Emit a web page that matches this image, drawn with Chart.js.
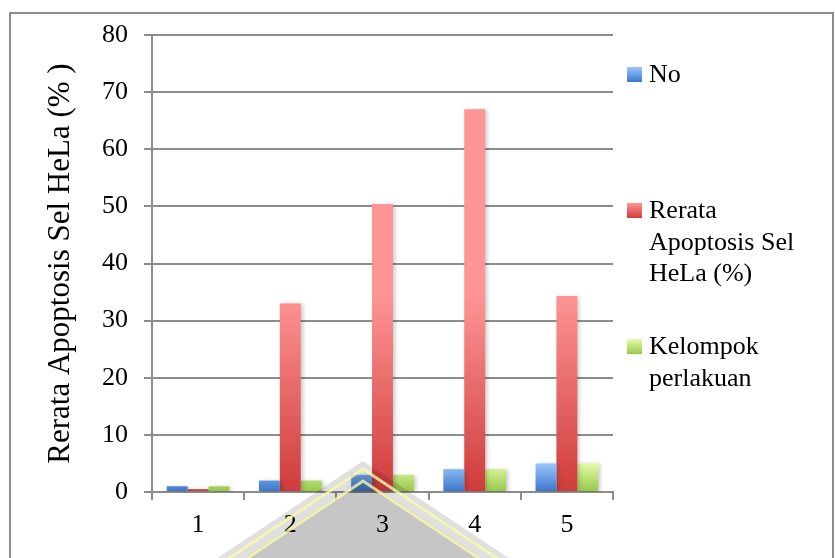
<!DOCTYPE html>
<html>
<head>
<meta charset="utf-8">
<script src="https://cdn.jsdelivr.net/npm/chart.js@4"></script>
<style>
  html, body { margin: 0; padding: 0; background: #fff; }
  #wrap { position: relative; width: 835px; height: 558px; }
</style>
</head>
<body>
<div id="wrap"><canvas id="chart"></canvas></div>
<script>
// data
const categories = ["1", "2", "3", "4", "5"];
const noValues = [1, 2, 3, 4, 5];
const apoptosisValues = [0.5, 33, 50.4, 67, 34.3];
const kelompokValues = [1, 2, 3, 4, 5];
const seriesNames = ["No", "Rerata Apoptosis Sel HeLa (%)", "Kelompok perlakuan"];
const yTicks = [0, 10, 20, 30, 40, 50, 60, 70, 80];
const yTitle = "Rerata Apoptosis Sel HeLa (% )";

// gradient stops per series: light top, dark bottom
const gradTop = ["#9cc6fb", "#fe9494", "#e4fba8"];
const gradBottom = ["#3d78cc", "#cf3c3b", "#98c94a"];

const FONT = "'Liberation Serif', 'Times New Roman', serif";
const GRAY = "#8c8c8c";

// per-bar vertical gradient + soft shadow
const barStyle = {
  id: "barStyle",
  beforeDatasetDraw(chart, args) {
    const c = chart.ctx;
    const i = args.index;
    args.meta.data.forEach((bar) => {
      const g = c.createLinearGradient(0, bar.y, 0, bar.base);
      g.addColorStop(0, gradTop[i]);
      g.addColorStop(1, gradBottom[i]);
      bar.options.backgroundColor = g;
    });
    c.save();
    c.shadowColor = "rgba(0,0,0,0.22)";
    c.shadowBlur = 4;
    c.shadowOffsetX = 2;
    c.shadowOffsetY = 1;
  },
  afterDatasetDraw(chart) {
    chart.ctx.restore();
  },
};

// frame, legend and the faint watermark
const decor = {
  id: "decor",
  beforeDraw(chart) {
    const c = chart.ctx;
    c.save();
    c.fillStyle = "#fff";
    c.fillRect(0, 0, chart.width, chart.height);
    c.strokeStyle = GRAY;
    c.lineWidth = 2;
    c.strokeRect(10, 13, 823, 600);
    c.restore();
  },
  afterDraw(chart) {
    const c = chart.ctx;
    // legend
    c.save();
    c.font = "26px " + FONT;
    c.fillStyle = "#000";
    c.textBaseline = "alphabetic";
    const startY = [82, 218, 354];
    chart.data.datasets.forEach((ds, i) => {
      const lines = wrap(c, ds.label, 165);
      const y0 = startY[i];
      const g = c.createLinearGradient(0, y0 - 15, 0, y0);
      g.addColorStop(0, gradTop[i]);
      g.addColorStop(1, gradBottom[i]);
      c.fillStyle = g;
      c.fillRect(627, y0 - 15, 15, 15);
      c.fillStyle = "#000";
      lines.forEach((ln, k) => c.fillText(ln, 649, y0 + k * 31.5));
    });
    c.restore();

    // watermark triangle
    c.save();
    const ax = 363, ay = 461, s = 1.5, by = 640;
    const tri = (dy) => {
      c.beginPath();
      c.moveTo(ax - (by - ay - dy) * s, by);
      c.lineTo(ax, ay + dy);
      c.lineTo(ax + (by - ay - dy) * s, by);
    };
    c.globalCompositeOperation = "multiply";
    tri(0);
    c.closePath();
    c.fillStyle = "rgb(224,224,224)";
    c.fill();
    tri(18);
    c.closePath();
    c.fillStyle = "rgb(226,226,226)";
    c.fill();
    c.globalCompositeOperation = "source-over";
    c.lineWidth = 3;
    c.strokeStyle = "rgba(250,250,170,0.8)";
    tri(8);
    c.stroke();
    tri(20);
    c.stroke();
    c.restore();
  },
};

function wrap(c, text, maxW) {
  const words = text.split(" ");
  const out = [];
  let cur = "";
  words.forEach((w) => {
    const t = cur ? cur + " " + w : w;
    if (c.measureText(t).width > maxW && cur) {
      out.push(cur);
      cur = w;
    } else cur = t;
  });
  if (cur) out.push(cur);
  return out;
}

const ctx = document.getElementById("chart").getContext("2d");
new Chart(ctx, {
  type: "bar",
  data: {
    labels: categories,
    datasets: [
      { label: seriesNames[0], data: noValues, backgroundColor: gradBottom[0] },
      { label: seriesNames[1], data: apoptosisValues, backgroundColor: gradBottom[1] },
      { label: seriesNames[2], data: kelompokValues, backgroundColor: gradBottom[2] },
    ],
  },
  options: {
    responsive: true,
    maintainAspectRatio: false,
    animation: false,
    categoryPercentage: 0.68,
    barPercentage: 1,
    layout: { padding: { top: 35, right: 222, left: 0, bottom: 0 } },
    plugins: { legend: { display: false }, tooltip: { enabled: false } },
    scales: {
      x: {
        grid: {
          offset: true,
          drawOnChartArea: false,
          tickLength: 8,
          color: GRAY,
          lineWidth: 2,
        },
        border: { color: GRAY, width: 2 },
        ticks: { color: "#000", font: { family: FONT, size: 26 }, padding: 10 },
        afterFit(scale) {
          scale.height = 66;
        },
      },
      y: {
        min: 0,
        max: 80,
        afterBuildTicks(scale) {
          scale.ticks = yTicks.map((v) => ({ value: v }));
        },
        grid: { color: GRAY, lineWidth: 2, tickLength: 8 },
        border: { color: GRAY, width: 2 },
        ticks: { color: "#000", font: { family: FONT, size: 26 }, padding: 16 },
        title: {
          display: true,
          text: yTitle,
          color: "#000",
          font: { family: FONT, size: 31 },
          padding: { top: 42, bottom: 0 },
        },
        afterFit(scale) {
          scale.width = 152;
        },
      },
    },
  },
  plugins: [barStyle, decor],
});
</script>
</body>
</html>
